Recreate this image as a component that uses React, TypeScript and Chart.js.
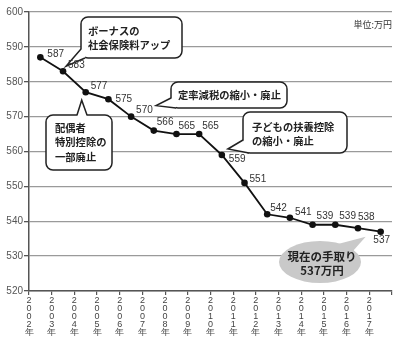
import React, { useEffect, useRef } from 'react';
import { Chart, registerables } from 'chart.js';

Chart.register(...registerables);

// ---- data ----
const years = ['2002年', '2003年', '2004年', '2005年', '2006年', '2007年', '2008年', '2009年', '2010年', '2011年', '2012年', '2013年', '2014年', '2015年', '2016年', '2017年'];
const takeHome = [587, 583, 577, 575, 570, 566, 565, 565, 559, 551, 542, 541, 539, 539, 538, 537];
const yMin = 520;
const yMax = 600;
const yStep = 10;
const unitText = '単位:万円';
const noteBonus = ['ボーナスの', '社会保険料アップ'];
const noteSpouse = ['配偶者', '特別控除の', '一部廃止'];
const noteFixedRate = ['定率減税の縮小・廃止'];
const noteChild = ['子どもの扶養控除', 'の縮小・廃止'];
const noteNow = ['現在の手取り', '537万円'];

// label nudges (style only)
const nudges: Record<number, { dx: number; dy: number; align?: CanvasTextAlign }> = {
  0: { dx: 7, dy: -3 },
  3: { dx: 7, dy: 0 },
  5: { dx: 3, dy: -8 },
  6: { dx: 2, dy: -8 },
  7: { dx: 3, dy: -8 },
  8: { dx: 7, dy: 4 },
  9: { dx: 5, dy: -4 },
  10: { dx: 3, dy: -6 },
  12: { dx: 4, dy: -8 },
  13: { dx: 4, dy: -8 },
  14: { dx: 0, dy: -11 },
  15: { dx: 1, dy: 9, align: 'center' },
};

const JP = '"Noto Sans CJK JP", "Noto Sans", sans-serif';
const NUM = '"Liberation Sans", Arial, sans-serif';

function roundRect(ctx: CanvasRenderingContext2D, x: number, y: number, w: number, h: number, r: number) {
  ctx.beginPath();
  ctx.moveTo(x + r, y);
  ctx.arcTo(x + w, y, x + w, y + h, r);
  ctx.arcTo(x + w, y + h, x, y + h, r);
  ctx.arcTo(x, y + h, x, y, r);
  ctx.arcTo(x, y, x + w, y, r);
  ctx.closePath();
}

type Pt = { x: number; y: number };

function callout(
  ctx: CanvasRenderingContext2D,
  box: { x: number; y: number; w: number; h: number },
  a: Pt, tip: Pt, b: Pt, c: Pt,
  lines: string[], tx: number, ty: number[]
) {
  ctx.save();
  ctx.lineWidth = 1.5;
  ctx.strokeStyle = '#222';
  ctx.fillStyle = '#fff';
  roundRect(ctx, box.x, box.y, box.w, box.h, 7);
  ctx.fill();
  ctx.stroke();
  ctx.beginPath();
  ctx.moveTo(a.x, a.y);
  ctx.lineTo(tip.x, tip.y);
  ctx.lineTo(b.x, b.y);
  ctx.lineTo(c.x, c.y);
  ctx.closePath();
  ctx.fill();
  ctx.beginPath();
  ctx.moveTo(a.x, a.y);
  ctx.lineTo(tip.x, tip.y);
  ctx.lineTo(b.x, b.y);
  ctx.stroke();
  ctx.fillStyle = '#222';
  ctx.font = `bold 10.3px ${JP}`;
  ctx.textAlign = 'left';
  ctx.textBaseline = 'middle';
  lines.forEach((l, i) => ctx.fillText(l, tx, ty[i]));
  ctx.restore();
}

const annotPlugin = {
  id: 'annot',
  afterDraw(chart: any) {
    const ctx: CanvasRenderingContext2D = chart.ctx;
    const meta = chart.getDatasetMeta(0);
    const pt = (i: number, dx: number, dy: number): Pt => ({ x: meta.data[i].x + dx, y: meta.data[i].y + dy });

    // unit
    ctx.save();
    ctx.font = `9px ${JP}`;
    ctx.fillStyle = '#333';
    ctx.textAlign = 'right';
    ctx.textBaseline = 'middle';
    ctx.fillText(unitText, chart.chartArea.right, 25);
    ctx.restore();

    callout(ctx, { x: 81, y: 17, w: 101, h: 41 }, { x: 81, y: 49 }, pt(1, 3, -5), { x: 85, y: 58 }, { x: 86, y: 53 },
      noteBonus, 88, [31, 45]);
    callout(ctx, { x: 171, y: 82, w: 116, h: 26 }, { x: 171, y: 98 }, pt(4, 25, -11), { x: 176, y: 108 }, { x: 176, y: 103 },
      noteFixedRate, 178, [95.5]);
    callout(ctx, { x: 243, y: 112, w: 104, h: 41 }, { x: 243, y: 140 }, pt(8, 6, -6), { x: 249, y: 153 }, { x: 248, y: 147 },
      noteChild, 252, [127, 141]);
    callout(ctx, { x: 46, y: 115, w: 66, h: 55 }, { x: 77, y: 115 }, pt(2, -4, 8), { x: 87, y: 115 }, { x: 82, y: 120 },
      noteSpouse, 55, [128, 142.5, 157]);

    // ellipse bubble
    ctx.save();
    ctx.fillStyle = '#c9c9c9';
    ctx.beginPath();
    ctx.ellipse(320, 262, 41, 21, 0, 0, Math.PI * 2);
    ctx.fill();
    const t = pt(15, -15, 5);
    ctx.beginPath();
    ctx.moveTo(338, 244);
    ctx.lineTo(t.x, t.y);
    ctx.lineTo(353, 251);
    ctx.lineTo(332, 256);
    ctx.closePath();
    ctx.fill();
    ctx.fillStyle = '#222';
    ctx.font = `bold 11.5px ${JP}`;
    ctx.textAlign = 'center';
    ctx.textBaseline = 'middle';
    ctx.fillText(noteNow[0], 322, 257);
    ctx.fillText(noteNow[1], 322, 271);
    ctx.restore();

    // value labels (on top)
    ctx.save();
    ctx.font = `10px ${NUM}`;
    ctx.fillStyle = '#333';
    ctx.textBaseline = 'middle';
    takeHome.forEach((v, i) => {
      const n = nudges[i] || { dx: 5, dy: -6 };
      ctx.textAlign = n.align || 'left';
      const p = pt(i, n.dx, n.dy);
      ctx.fillText(String(v), p.x, p.y);
    });
    ctx.restore();
  },
};

export default function App() {
  const ref = useRef<HTMLCanvasElement>(null);
  useEffect(() => {
    if (!ref.current) return;
    const chart = new Chart(ref.current, {
      type: 'line',
      data: {
        datasets: [
          {
            data: takeHome.map((v, i) => ({ x: i + 0.5, y: v })),
            borderColor: '#111',
            borderWidth: 1.8,
            pointRadius: 3.3,
            pointBackgroundColor: '#111',
            pointBorderWidth: 0,
            tension: 0,
          },
        ],
      },
      options: {
        animation: false,
        responsive: false,
        devicePixelRatio: 1,
        layout: { padding: { top: 12, right: 8, left: 0, bottom: 0 } },
        plugins: { legend: { display: false }, tooltip: { enabled: false } },
        scales: {
          x: {
            type: 'linear',
            min: 0,
            max: years.length,
            afterFit: (s: any) => { s.height = 64; },
            afterBuildTicks: (s: any) => {
              s.ticks = Array.from({ length: years.length + 1 }, (_, i) => ({ value: i }));
            },
            ticks: {
              autoSkip: false,
              maxRotation: 0,
              minRotation: 0,
              padding: 2,
              color: '#444',
              font: { size: 9, family: NUM, lineHeight: 0.88 },
              callback: (v: any) => (years[v] ? years[v].split('') : ''),
            },
            grid: { drawOnChartArea: false, drawTicks: true, tickLength: 4, tickColor: '#555', lineWidth: 1.2 },
            border: { color: '#555', width: 1.5 },
          },
          y: {
            min: yMin,
            max: yMax,
            afterFit: (s: any) => { s.width = 29; },
            ticks: { stepSize: yStep, padding: 1, color: '#555', font: { size: 10, family: NUM } },
            grid: { color: '#9a9a9a', lineWidth: 1.3, tickLength: 5, tickColor: '#555' },
            border: { color: '#555', width: 1.5 },
          },
        },
      },
      plugins: [annotPlugin],
    } as any);
    return () => chart.destroy();
  }, []);
  return (
    <div style={{ position: 'absolute', left: 0, top: 0, width: 400, height: 355, background: '#fff' }}>
      <canvas ref={ref} width={400} height={355} style={{ width: 400, height: 355 }} />
    </div>
  );
}
